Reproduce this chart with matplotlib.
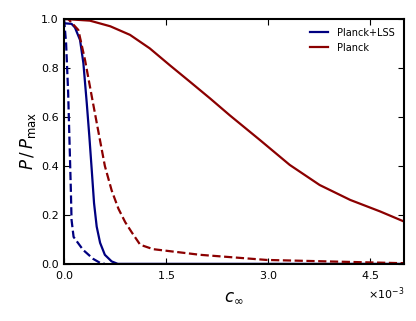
import matplotlib
matplotlib.use('Agg')
import matplotlib.pyplot as plt
from matplotlib.ticker import ScalarFormatter

# valores (c_inf en unidades de 1e-3)
x_lss = [0.0, 0.015, 0.11, 0.16, 0.235, 0.284, 0.334, 0.372, 0.407, 0.441, 0.48, 0.53, 0.60, 0.70, 0.79, 5.0]
p_lss = [0.982, 0.982, 0.98, 0.965, 0.914, 0.82, 0.656, 0.52, 0.384, 0.248, 0.152, 0.086, 0.037, 0.01, 0.0, 0.0]

x_lss_d = [0.0, 0.03, 0.06, 0.08, 0.10, 0.11, 0.14, 0.28, 0.43, 0.53, 0.60]
p_lss_d = [1.0, 0.9, 0.7, 0.5, 0.3, 0.18, 0.11, 0.057, 0.02, 0.004, 0.0]

x_planck = [0.0, 0.38, 0.68, 0.97, 1.26, 1.56, 1.85, 2.15, 2.44, 2.88, 3.32, 3.76, 4.21, 4.65, 5.0]
p_planck = [1.0, 0.993, 0.97, 0.935, 0.88, 0.81, 0.744, 0.675, 0.606, 0.506, 0.404, 0.322, 0.261, 0.214, 0.173]

x_planck_d = [0.0, 0.06, 0.21, 0.31, 0.41, 0.50, 0.60, 0.70, 0.80, 0.90, 1.0, 1.12, 1.31, 2.0, 2.98, 4.94, 5.0]
p_planck_d = [1.0, 1.0, 0.955, 0.83, 0.68, 0.547, 0.40, 0.30, 0.225, 0.17, 0.127, 0.078, 0.06, 0.037, 0.016, 0.003, 0.003]

azul = '#000080'
rojo = '#8b0000'

def esc(v):
    return [a * 1e-3 for a in v]

fig = plt.figure(figsize=(4.16, 3.21), dpi=100)
ax = fig.add_axes([0.154, 0.178, 0.817, 0.763])

ax.plot(esc(x_lss), p_lss, color=azul, lw=1.6, label='Planck+LSS')
ax.plot(esc(x_planck), p_planck, color=rojo, lw=1.6, label='Planck')
ax.plot(esc(x_lss_d), p_lss_d, color=azul, lw=1.6, ls='--')
ax.plot(esc(x_planck_d), p_planck_d, color=rojo, lw=1.6, ls='--')

ax.set_xlim(0, 5e-3)
ax.set_ylim(0, 1.0)
ax.set_xticks([0, 1.5e-3, 3.0e-3, 4.5e-3])
ax.set_yticks([0, 0.2, 0.4, 0.6, 0.8, 1.0])
fmt = ScalarFormatter(useMathText=True)
fmt.set_powerlimits((-2, 2))
ax.xaxis.set_major_formatter(fmt)
ax.yaxis.set_major_formatter(plt.FormatStrFormatter('%.1f'))
ax.xaxis.get_offset_text().set_fontsize(8)

ax.tick_params(direction='in', top=True, right=True, labelsize=8, length=4, width=0.8, pad=4)
for s in ax.spines.values():
    s.set_linewidth(1.5)

ax.set_xlabel(r'$c_\infty$', fontsize=12)
ax.set_ylabel(r'$P\,/\,P_{\rm max}$', fontsize=12, labelpad=2)

ax.legend(loc='upper right', frameon=False, fontsize=7, handlelength=1.8, handletextpad=1.0)

fig.savefig('out.png', dpi=100)
